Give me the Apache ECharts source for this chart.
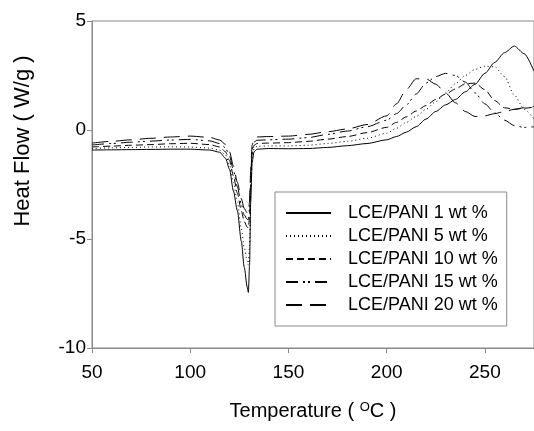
<!DOCTYPE html>
<html>
<head>
<meta charset="utf-8">
<script src="https://cdn.jsdelivr.net/npm/echarts@6/dist/echarts.min.js"></script>
<style>
html,body{margin:0;padding:0;background:#fff;}
#chart{width:534px;height:431px;}
</style>
</head>
<body>
<div id="chart"></div>
<script>
// Temperature grid (°C)
var temps = [50, 60, 70, 80, 90, 100, 110, 115, 118, 120, 122, 124, 126, 127.5, 129, 129.6, 130.2, 130.8, 131.5, 132.5, 134, 140, 150, 160, 170, 180, 190, 200, 205, 210, 215, 220, 225, 230, 235, 240, 245, 250, 255, 260, 265, 270, 275];

var names = ["LCE/PANI 1 wt %", "LCE/PANI 5 wt %", "LCE/PANI 10 wt %", "LCE/PANI 15 wt %", "LCE/PANI 20 wt %"];

var pani1 = [-0.92, -0.91, -0.9, -0.89, -0.88, -0.88, -0.92, -1.02, -1.3, -1.8, -2.8, -3.7, -5.1, -6.3, -7.2, -7.45, -6.2, -3.3, -1.5, -1.0, -0.88, -0.85, -0.86, -0.85, -0.8, -0.72, -0.62, -0.45, -0.3, -0.1, 0.15, 0.5, 0.85, 1.15, 1.4, 1.75, 2.1, 2.6, 3.1, 3.55, 3.85, 3.5, 2.7];
var pani5 = [-0.85, -0.82, -0.8, -0.78, -0.77, -0.78, -0.83, -0.93, -1.15, -1.6, -2.4, -3.3, -4.5, -5.4, -6.0, -6.2, -5.3, -2.9, -1.3, -0.85, -0.75, -0.73, -0.73, -0.7, -0.62, -0.52, -0.38, -0.15, 0.08, 0.35, 0.62, 0.95, 1.3, 1.7, 2.12, 2.5, 2.78, 2.93, 2.9, 2.45, 1.6, 0.95, 0.5];
var pani10 = [-0.78, -0.74, -0.7, -0.67, -0.63, -0.61, -0.67, -0.78, -1.0, -1.4, -2.1, -2.9, -3.7, -4.2, -4.45, -4.5, -4.0, -2.4, -1.1, -0.7, -0.62, -0.6, -0.58, -0.52, -0.42, -0.3, -0.12, 0.12, 0.35, 0.6, 0.87, 1.12, 1.4, 1.65, 1.88, 2.12, 2.15, 1.85, 1.35, 1.02, 0.95, 1.0, 1.05];
var pani15 = [-0.69, -0.62, -0.56, -0.51, -0.46, -0.43, -0.5, -0.62, -0.82, -1.2, -1.85, -2.6, -3.4, -3.9, -4.1, -4.1, -3.6, -2.1, -0.9, -0.55, -0.47, -0.45, -0.42, -0.35, -0.2, -0.05, 0.15, 0.45, 0.75, 1.15, 1.65, 2.15, 2.45, 2.6, 2.5, 2.2, 1.7, 1.2, 0.78, 0.45, 0.2, 0.12, 0.15];
var pani20 = [-0.6, -0.52, -0.45, -0.38, -0.32, -0.28, -0.34, -0.46, -0.66, -1.0, -1.65, -2.4, -3.15, -3.6, -3.8, -3.8, -3.3, -1.8, -0.7, -0.38, -0.32, -0.3, -0.28, -0.2, -0.08, 0.05, 0.25, 0.65, 1.2, 1.85, 2.35, 2.35, 2.1, 1.7, 1.25, 0.85, 0.62, 0.65, 0.75, 0.85, 0.95, 1.02, 1.07];

var xTicks = [50, 100, 150, 200, 250];
var yTicks = [-10, -5, 0, 5];

var seriesValues = [pani1, pani5, pani10, pani15, pani20];
var dashes = ['solid', [1, 3], [7, 4], [12, 5, 2, 3, 2, 5], [16, 8]];

var FONT = '"Liberation Sans", Arial, sans-serif';
var chart = echarts.init(document.getElementById('chart'), null, {renderer: 'canvas'});

var series = seriesValues.map(function (vals, i) {
  return {
    name: names[i],
    type: 'line',
    symbol: 'none',
    showSymbol: false,
    smooth: 0.25,
    smoothMonotone: 'x',
    data: temps.map(function (t, j) { return [t, vals[j]]; }),
    lineStyle: {color: '#000', width: 1, type: dashes[i]},
    itemStyle: {color: '#000'}
  };
});

chart.setOption({
  animation: false,
  backgroundColor: '#fff',
  grid: {left: 92, top: 21, right: -2, bottom: 83, show: true, borderColor: '#8a8a8a', borderWidth: 1},
  legend: {
    orient: 'vertical',
    left: 275, top: 192,
    padding: [12, 9, 12, 10],
    itemWidth: 45, itemHeight: 14, itemGap: 5,
    backgroundColor: '#fff',
    borderColor: '#8a8a8a', borderWidth: 1,
    itemStyle: {opacity: 0},
    textStyle: {fontFamily: FONT, fontSize: 18, color: '#000', lineHeight: 18, padding: [0, 0, 0, 12]},
    data: names
  },
  xAxis: {
    type: 'value', min: 50, max: 275, interval: 50,
    axisLine: {show: true, onZero: false, lineStyle: {color: '#8a8a8a'}},
    axisTick: {show: true, inside: false, length: 5, lineStyle: {color: '#8a8a8a'}},
    splitLine: {show: false},
    axisLabel: {fontFamily: FONT, fontSize: 19, color: '#000', margin: 15, showMaxLabel: false,
      formatter: function (v) { return xTicks.indexOf(v) >= 0 ? String(v) : ''; }},
    name: '{a|Temperature ( }{s|O}{a|C )}',
    nameLocation: 'middle', nameGap: 53,
    nameTextStyle: {
      rich: {
        a: {fontFamily: FONT, fontSize: 20, color: '#000'},
        s: {fontFamily: FONT, fontSize: 13, color: '#000', verticalAlign: 'top', padding: [0, 0, 8, 0]}
      }
    }
  },
  yAxis: {
    type: 'value', min: -10, max: 5, interval: 5,
    axisLine: {show: true, onZero: false, lineStyle: {color: '#8a8a8a'}},
    axisTick: {show: true, inside: false, length: 5, lineStyle: {color: '#8a8a8a'}},
    splitLine: {show: false},
    axisLabel: {fontFamily: FONT, fontSize: 19, color: '#000', margin: 6,
      formatter: function (v) { return yTicks.indexOf(v) >= 0 ? String(v) : ''; }}
  },
  graphic: [{
    type: 'text',
    x: 23, y: 141,
    rotation: Math.PI / 2,
    style: {text: 'Heat Flow ( W/g )', fontFamily: FONT, fontSize: 22, fill: '#000', align: 'center', verticalAlign: 'middle'}
  }],
  series: series
});
</script>
</body>
</html>
